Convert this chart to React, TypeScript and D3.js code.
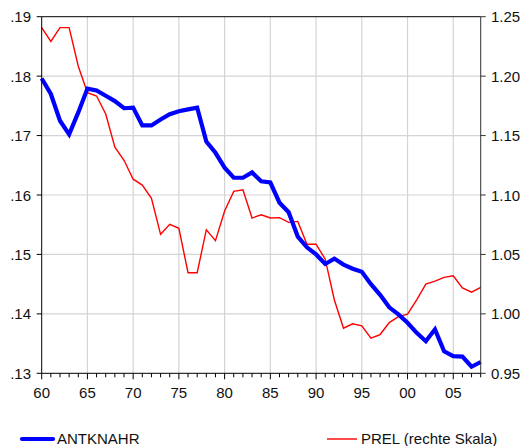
import React from "react";
import * as d3 from "d3";

const years = [
  1960, 1961, 1962, 1963, 1964, 1965, 1966, 1967, 1968, 1969,
  1970, 1971, 1972, 1973, 1974, 1975, 1976, 1977, 1978, 1979,
  1980, 1981, 1982, 1983, 1984, 1985, 1986, 1987, 1988, 1989,
  1990, 1991, 1992, 1993, 1994, 1995, 1996, 1997, 1998, 1999,
  2000, 2001, 2002, 2003, 2004, 2005, 2006, 2007, 2008,
];

const antknahr = [
  0.1796, 0.1770, 0.1725, 0.1702, 0.1739, 0.1779, 0.1776, 0.1767, 0.1758, 0.1746,
  0.1747, 0.1717, 0.1717, 0.1727, 0.1736, 0.1741, 0.1744, 0.1747, 0.1690, 0.1671,
  0.1646, 0.1629, 0.1629, 0.1638, 0.1623, 0.1621, 0.1587, 0.1571, 0.1530, 0.1512,
  0.1500, 0.1484, 0.1493, 0.1483, 0.1476, 0.1471, 0.1450, 0.1432, 0.1411, 0.1399,
  0.1385, 0.1368, 0.1354, 0.1374, 0.1337, 0.1329, 0.1328, 0.1311, 0.1319,
];

const prel = [
  1.2408, 1.2292, 1.2408, 1.2408, 1.2083, 1.1861, 1.1833, 1.1681, 1.1403, 1.1292,
  1.1133, 1.1083, 1.0972, 1.0669, 1.0753, 1.0720, 1.0346, 1.0346, 1.0708, 1.0616,
  1.0866, 1.1030, 1.1044, 1.0806, 1.0834, 1.0807, 1.0810, 1.0770, 1.0778, 1.0586,
  1.0586, 1.0460, 1.0117, 0.9879, 0.9916, 0.9899, 0.9795, 0.9826, 0.9927, 0.9977,
  0.9998, 1.0118, 1.0250, 1.0275, 1.0307, 1.0321, 1.0219, 1.0182, 1.0223,
];

const leftTicks = [0.13, 0.14, 0.15, 0.16, 0.17, 0.18, 0.19];
const leftTickLabels = [".13", ".14", ".15", ".16", ".17", ".18", ".19"];
const rightTicks = [0.95, 1.0, 1.05, 1.1, 1.15, 1.2, 1.25];
const rightTickLabels = ["0.95", "1.00", "1.05", "1.10", "1.15", "1.20", "1.25"];
const xMajorTicks = [1960, 1965, 1970, 1975, 1980, 1985, 1990, 1995, 2000, 2005];
const xMajorLabels = ["60", "65", "70", "75", "80", "85", "90", "95", "00", "05"];

const seriesNames = ["ANTKNAHR", "PREL (rechte Skala)"];

export default function App() {
  const W = 523, H = 446;
  const left = 41.7, right = 480.7, top = 16.7, bottom = 373.3;
  const font = "'Liberation Sans', Arial, sans-serif";

  const x = d3.scaleLinear().domain([1960, 2008]).range([left, right]);
  const yL = d3.scaleLinear().domain([0.13, 0.19]).range([bottom, top]);
  const yR = d3.scaleLinear().domain([0.95, 1.25]).range([bottom, top]);

  const lineL = d3.line<number>().x((_, i) => x(years[i])).y((d) => yL(d));
  const lineR = d3.line<number>().x((_, i) => x(years[i])).y((d) => yR(d));

  const grid = "#d4d4d4";

  return (
    <svg width={W} height={H} style={{ position: "absolute", left: 0, top: 0, background: "#fff" }}>
      {/* grid */}
      {xMajorTicks.slice(1).map((t) => (
        <line key={"gx" + t} x1={x(t)} x2={x(t)} y1={top} y2={bottom} stroke={grid} strokeWidth={1.2} />
      ))}
      {leftTicks.slice(1, -1).map((t) => (
        <line key={"gy" + t} x1={left} x2={right} y1={yL(t)} y2={yL(t)} stroke={grid} strokeWidth={1.2} />
      ))}

      {/* series */}
      <path d={lineR(prel) || ""} fill="none" stroke="#ff0000" strokeWidth={1.4} strokeLinejoin="miter" />
      <path d={lineL(antknahr) || ""} fill="none" stroke="#0000ff" strokeWidth={4.2} strokeLinejoin="miter" />

      {/* frame */}
      <line x1={left} x2={right} y1={top} y2={top} stroke="#000" strokeWidth={1} />
      <line x1={left} x2={left} y1={top} y2={bottom} stroke="#000" strokeWidth={1} />
      <line x1={right} x2={right} y1={top} y2={bottom} stroke="#333" strokeWidth={1} />
      <line x1={left} x2={right} y1={bottom} y2={bottom} stroke="#000" strokeWidth={1} />

      {/* left axis */}
      {leftTicks.map((t, i) => (
        <g key={"l" + t}>
          <line x1={left - 5} x2={left} y1={yL(t)} y2={yL(t)} stroke="#000" />
          <text x={31} y={yL(t) + 5.5} textAnchor="end" fontFamily={font} fontSize={15} fill="#111">
            {leftTickLabels[i]}
          </text>
        </g>
      ))}

      {/* right axis */}
      {rightTicks.map((t, i) => (
        <g key={"r" + t}>
          <line x1={right} x2={right + 5} y1={yR(t)} y2={yR(t)} stroke="#333" />
          <text x={491} y={yR(t) + 5.5} textAnchor="start" fontFamily={font} fontSize={15} fill="#111">
            {rightTickLabels[i]}
          </text>
        </g>
      ))}

      {/* bottom axis */}
      {years.map((t) => {
        const major = xMajorTicks.includes(t);
        return <line key={"b" + t} x1={x(t)} x2={x(t)} y1={bottom} y2={bottom + (major ? 6 : 4)} stroke="#000" />;
      })}
      {xMajorTicks.map((t, i) => (
        <text key={"bl" + t} x={x(t)} y={398} textAnchor="middle" fontFamily={font} fontSize={15} fill="#111">
          {xMajorLabels[i]}
        </text>
      ))}

      {/* legend */}
      <line x1={22} x2={53} y1={439} y2={439} stroke="#0000ff" strokeWidth={4.2} strokeLinecap="round" />
      <text x={57} y={444} fontFamily={font} fontSize={15} fill="#111">{seriesNames[0]}</text>
      <line x1={327} x2={357} y1={439} y2={439} stroke="#ff0000" strokeWidth={1.4} />
      <text x={361} y={444} fontFamily={font} fontSize={15} fill="#111">{seriesNames[1]}</text>
    </svg>
  );
}
